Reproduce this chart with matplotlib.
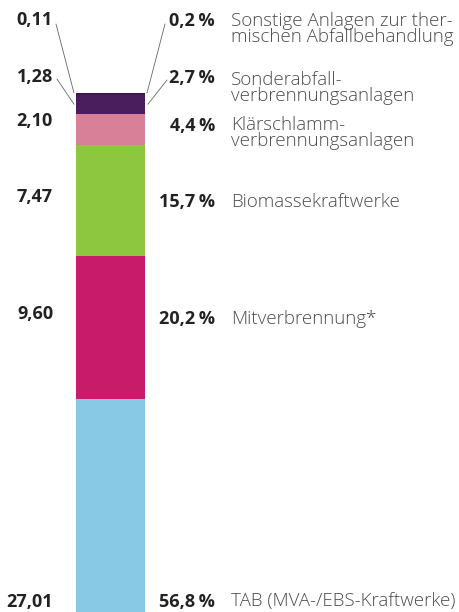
import numpy as np
import matplotlib
matplotlib.use("Agg")
import matplotlib.pyplot as plt

# ---------------------------------------------------------------------------
# Data (bottom -> top of the stacked bar)
# ---------------------------------------------------------------------------
categories = [
    "TAB (MVA-/EBS-Kraftwerke)",
    "Mitverbrennung*",
    "Biomassekraftwerke",
    "Klärschlamm-\nverbrennungsanlagen",
    "Sonderabfall-\nverbrennungsanlagen",
    "Sonstige Anlagen zur ther-\nmischen Abfallbehandlung",
]
values = [27.01, 9.60, 7.47, 2.10, 1.28, 0.11]
value_labels = ["27,01", "9,60", "7,47", "2,10", "1,28", "0,11"]
share_labels = ["56,8\u2009%", "20,2\u2009%", "15,7\u2009%", "4,4\u2009%", "2,7\u2009%", "0,2\u2009%"]
colors = ["#88cae6", "#c81b69", "#8dc63f", "#d98099", "#4a1e5c", "#3d1650"]

# ---------------------------------------------------------------------------
# Layout (pixels from top of a 459x612 figure)
# ---------------------------------------------------------------------------
W, H = 459, 612
BAR_X, BAR_W = 110.5, 69
value_y = [602, 314, 197, 121, 77, 20]
share_y = [602, 319, 202, 126, 78, 21]
cat_y = [601, 319, 202, 133, 88, 29]
Y_MIN, Y_MAX = 12.70, 53.82

TEXT_DARK = "#222222"
TEXT_GREY = "#4d4d4d"
FONT = ["Open Sans", "DejaVu Sans"]

fig = plt.figure(figsize=(W / 100, H / 100), dpi=100)
ax = fig.add_axes([0, 0, 1, 1])
ax.set_xlim(0, W)
ax.set_ylim(Y_MIN, Y_MAX)
ax.axis("off")

bottoms = np.concatenate([[0], np.cumsum(values)[:-1]])
ax.bar([BAR_X] * len(values), values, bottom=bottoms, width=BAR_W,
       color=colors, linewidth=0)


def fy(y_px):
    return 1 - y_px / H


for i in range(len(values)):
    fig.text(53 / W, fy(value_y[i]), value_labels[i], ha="right", va="center",
             fontsize=13, fontweight="bold", color=TEXT_DARK, family=FONT)
    fig.text(215 / W, fy(share_y[i]), share_labels[i], ha="right", va="center",
             fontsize=13, fontweight="bold", color=TEXT_DARK, family=FONT)
    fig.text(231 / W, fy(cat_y[i]), categories[i], ha="left", va="center",
             fontsize=13.5, fontweight="light", color=TEXT_GREY, family=FONT,
             linespacing=0.9)

# leader lines for the two thin top segments
total = sum(values)
left, right = BAR_X - BAR_W / 2, BAR_X + BAR_W / 2
line_kw = dict(arrowstyle="-", lw=0.6, color="#666666", shrinkA=0, shrinkB=0)
ax.annotate("", xy=(left - 2, total), xytext=(56, H - 24),
            textcoords="figure pixels", arrowprops=line_kw)
ax.annotate("", xy=(left - 2, bottoms[4] + values[4] / 2), xytext=(57, H - 79),
            textcoords="figure pixels", arrowprops=line_kw)
ax.annotate("", xy=(right + 2, total), xytext=(165, H - 24),
            textcoords="figure pixels", arrowprops=line_kw)
ax.annotate("", xy=(right + 3, bottoms[4] + values[4] / 2), xytext=(167, H - 80),
            textcoords="figure pixels", arrowprops=line_kw)

fig.savefig("out.png", dpi=100)
